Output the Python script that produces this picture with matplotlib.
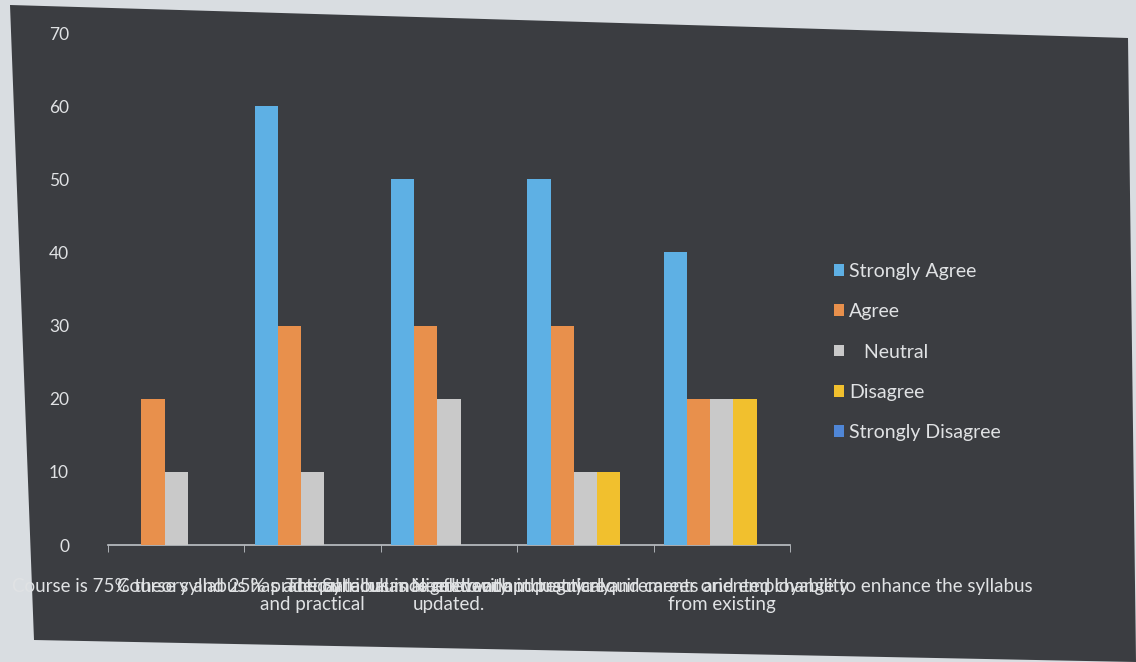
import matplotlib
matplotlib.use("Agg")
import matplotlib.pyplot as plt
import numpy as np
from matplotlib.patches import Polygon

# ---- data ----
categories = [
    "Course is 75% theory and 25% practical",
    "Course syllabus has adequate balance of theory\nand practical",
    "The curriculum is relevant and regularly\nupdated.",
    "Syllabus is aligned with industry requirements and employability",
    "Need to adopt practical and career oriented change to enhance the syllabus\nfrom existing",
]
series_names = ["Strongly Agree", "Agree", "   Neutral", "Disagree", "Strongly Disagree"]
strongly_agree = [0, 60, 50, 50, 40]
agree = [20, 30, 30, 30, 20]
neutral = [10, 10, 20, 10, 20]
disagree = [0, 0, 0, 10, 20]
strongly_disagree = [0, 0, 0, 0, 0]
yticks = [0, 10, 20, 30, 40, 50, 60, 70]

colors = ["#5eb0e4", "#e8904c", "#c9c9c9", "#f1c02e", "#4f86d6"]
bg = "#3b3d41"
txt = "#e0e2e4"

plt.rcParams["font.family"] = ["Lato", "DejaVu Sans"]

fig = plt.figure(figsize=(11.36, 6.62), dpi=100)
fig.patch.set_facecolor("#d9dde1")

# dark screen area (photo of a screen)
W, H = 1136, 662
pts = [(10, 5), (1128, 38), (1136, 662), (34, 640)]
poly = Polygon([(x / W, 1 - y / H) for x, y in pts], closed=True,
               transform=fig.transFigure, facecolor=bg, edgecolor="none", zorder=-5)
fig.patches.append(poly)

ax = fig.add_axes([108 / W, 1 - 545 / H, (790 - 108) / W, (545 - 33) / H])
ax.set_zorder(2)
ax.set_facecolor("none")

data = [strongly_agree, agree, neutral, disagree, strongly_disagree]
x = np.arange(len(categories))
bw = 0.17
for i, (vals, name, c) in enumerate(zip(data, series_names, colors)):
    ax.bar(x + (i - 2) * bw, vals, width=bw, color=c, label=name, zorder=3)

ax.set_ylim(0, 70)
ax.set_xlim(-0.5, len(categories) - 0.5)
ax.set_yticks(yticks)
ax.tick_params(axis="y", length=0, colors=txt, labelsize=12.5, pad=28)
for s in ["top", "right", "left"]:
    ax.spines[s].set_visible(False)
ax.spines["bottom"].set_color("#bfc3c7")
ax.spines["bottom"].set_linewidth(1.2)

ax.set_xticks(x)
ax.set_xticklabels(categories, fontsize=13.5, color=txt, linespacing=1.05)
ax.tick_params(axis="x", length=0, pad=24)
ax.set_xticks(np.arange(-0.5, len(categories), 1.0), minor=True)
ax.tick_params(axis="x", which="minor", length=5, color="#bfc3c7", direction="out")

leg = fig.legend(loc="center left", bbox_to_anchor=(816 / W, 1 - 352 / H),
                 frameon=False, fontsize=14, labelcolor=txt,
                 handlelength=0.55, handleheight=0.55, handletextpad=0.25,
                 labelspacing=1.2)

fig.savefig("out.png", dpi=100, facecolor=fig.get_facecolor())
